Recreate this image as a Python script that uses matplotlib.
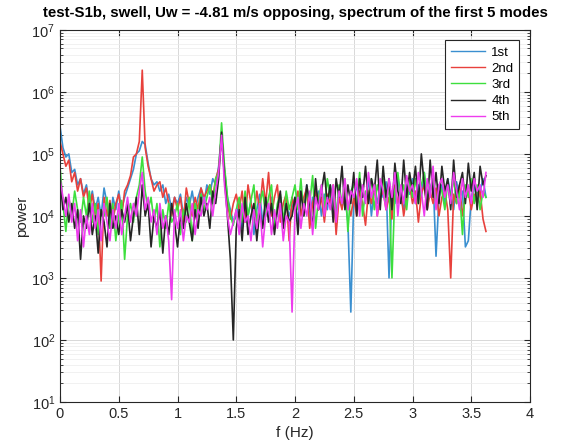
import numpy as np
import matplotlib
matplotlib.use("Agg")
import matplotlib.pyplot as plt
from matplotlib.ticker import LogLocator, NullFormatter

plt.rcParams['font.family'] = ['Liberation Sans', 'DejaVu Sans']
plt.rcParams['mathtext.fontset'] = 'custom'
plt.rcParams['mathtext.rm'] = 'Liberation Sans'
plt.rcParams['mathtext.it'] = 'Liberation Sans'

# frequency step (Hz) and number of bins
df = 0.025
n_bins = 146
freq = np.arange(n_bins) * df

# log10(power), rows of 10 bins (0.25 Hz each)
mode1_log = [
    5.45, 5.1, 4.95, 5.0, 4.7, 4.75, 4.5, 4.6, 4.35, 4.5,
    4.2, 4.4, 4.1, 4.3, 4.0, 4.45, 4.2, 3.8, 4.3, 4.1,
    4.4, 4.1, 4.3, 4.45, 4.6, 4.75, 5.0, 5.05, 5.2, 5.15,
    4.85, 4.6, 4.5, 4.55, 4.4, 4.5, 4.2, 4.35, 4.1, 4.3,
    4.2, 4.35, 4.0, 4.3, 4.15, 4.4, 4.1, 4.3, 4.45, 4.2,
    4.5, 4.35, 4.6, 4.5, 4.8, 5.3, 4.75, 4.3, 4.1, 3.9,
    4.0, 4.2, 3.8, 4.3, 4.0, 4.25, 3.7, 4.1, 4.35, 3.9,
    4.2, 4.0, 4.3, 3.85, 4.1, 4.3, 3.9, 4.2, 4.0, 4.15,
    4.3, 3.9, 4.4, 4.1, 4.5, 3.95, 4.3, 4.2, 4.4, 4.0,
    4.35, 4.1, 4.5, 4.2, 4.0, 4.4, 4.15, 4.3, 3.9, 2.45,
    4.3, 4.5, 4.1, 4.4, 4.25, 4.6, 4.0, 4.45, 4.2, 4.5,
    4.3, 4.55, 3.0, 4.4, 4.2, 4.6, 4.3, 4.1, 4.5, 4.35,
    4.6, 4.2, 4.5, 4.3, 4.7, 4.1, 4.45, 4.6, 3.35, 4.3,
    4.5, 4.2, 4.6, 4.35, 4.1, 4.55, 4.3, 4.4, 3.5, 3.6,
    4.3, 4.5, 4.2, 4.4, 4.6, 4.3,
]
mode2_log = [
    5.2, 5.0, 4.8, 4.9, 4.55, 4.7, 4.4, 4.6, 4.3, 4.45,
    4.1, 4.35, 4.0, 4.2, 2.95, 4.3, 4.0, 4.25, 3.9, 4.2,
    4.35, 4.0, 4.4, 4.5, 4.65, 4.95, 5.0, 5.2, 6.35, 5.1,
    4.8, 4.6, 4.4, 4.5, 4.55, 4.3, 4.45, 4.2, 4.0, 4.3,
    4.1, 4.3, 3.9, 4.45, 4.2, 4.0, 4.3, 4.1, 4.45, 4.3,
    4.4, 4.5, 4.3, 4.6, 4.75, 5.3, 4.7, 4.2, 3.95, 4.2,
    4.35, 4.1, 4.4, 3.9, 4.5, 4.2, 4.0, 4.4, 4.1, 4.6,
    4.2, 4.7, 4.0, 4.3, 4.5, 3.9, 4.2, 4.35, 3.6, 4.3,
    4.1, 4.4, 4.0, 4.3, 4.45, 3.8, 4.2, 4.4, 4.1, 4.3,
    3.9, 4.35, 4.2, 4.5, 3.7, 4.3, 4.1, 4.45, 4.2, 4.0,
    4.3, 4.0, 4.4, 4.2, 3.85, 4.4, 4.2, 4.5, 4.0, 4.3,
    4.4, 4.1, 4.3, 3.95, 4.5, 4.2, 4.4, 4.0, 4.3, 4.5,
    4.2, 4.4, 3.9, 4.35, 4.5, 4.1, 4.4, 4.2, 4.45, 4.0,
    4.3, 4.4, 4.1, 3.0, 4.35, 4.2, 4.5, 4.0, 4.3, 4.4,
    4.1, 4.35, 4.2, 4.4, 3.95, 3.75,
]
mode3_log = [
    4.8, 4.2, 3.75, 4.3, 4.0, 4.4, 4.1, 3.9, 4.3, 4.0,
    4.4, 3.9, 4.2, 3.7, 4.1, 4.0, 4.3, 3.8, 4.2, 3.6,
    4.0, 4.25, 3.3, 4.0, 4.2, 3.9, 4.3, 4.5, 4.95, 4.4,
    4.1, 4.3, 3.9, 4.2, 3.5, 4.1, 3.8, 4.2, 3.9, 4.0,
    4.2, 3.7, 4.1, 3.9, 4.3, 3.6, 4.2, 4.0, 4.35, 4.1,
    4.3, 4.5, 4.2, 4.6, 4.7, 5.5, 4.8, 4.3, 4.0, 3.85,
    4.1, 4.3, 3.9, 4.4, 4.0, 4.25, 4.5, 3.9, 4.2, 4.4,
    4.0, 4.3, 4.5, 3.8, 4.2, 4.35, 3.9, 4.4, 4.1, 4.3,
    4.5, 4.1, 4.6, 4.0, 4.4, 4.2, 4.65, 3.8, 4.3, 4.5,
    4.1, 4.6, 4.3, 4.45, 4.0, 4.5, 4.2, 4.6, 3.75, 4.4,
    4.5, 4.2, 4.7, 4.0, 4.4, 4.3, 4.6, 4.1, 4.5, 4.3,
    4.6, 4.2, 4.5, 3.0, 4.4, 4.7, 4.3, 4.5, 4.1, 4.6,
    4.3, 4.6, 4.2, 4.5, 4.7, 4.3, 4.4, 4.6, 4.2, 4.5,
    4.4, 4.1, 4.55, 4.3, 4.6, 4.2, 4.4, 3.7, 4.5, 4.3,
    4.6, 4.2, 4.5, 4.1, 4.4, 4.3,
]
mode4_log = [
    4.6, 4.1, 4.3, 3.9, 4.2, 3.8, 4.1, 3.3, 4.0, 3.8,
    4.2, 3.7, 4.0, 3.4, 4.1, 3.9, 3.5, 4.2, 3.8, 4.0,
    3.7, 4.1, 3.9, 4.2, 3.6, 4.0, 4.3, 3.7, 4.5, 4.0,
    4.2, 3.5, 4.0, 3.8, 4.1, 3.4, 4.0, 3.7, 4.2, 3.9,
    3.5, 4.0, 3.8, 4.2, 3.9, 3.6, 4.1, 3.8, 4.3, 4.0,
    4.2, 3.8, 4.4, 4.2, 4.6, 5.35, 4.6, 4.0, 3.3, 2.0,
    3.8, 4.1, 3.6, 4.3, 3.7, 4.0, 4.2, 3.6, 4.1, 3.8,
    4.3, 3.9, 4.2, 3.7, 4.1, 4.4, 3.8, 4.2, 3.9, 4.0,
    4.3, 3.7, 4.4, 4.0, 4.5, 4.2, 3.8, 4.6, 4.1, 4.4,
    4.7, 4.2, 4.5, 3.9, 4.6, 4.3, 4.8, 4.1, 4.5, 4.2,
    4.7, 4.0, 4.6, 4.3, 4.8, 4.2, 4.6, 4.4, 4.9, 4.1,
    4.8, 4.3, 4.6, 4.1, 4.85, 4.4, 4.2, 4.9, 4.3, 4.7,
    4.4, 4.8, 4.2, 5.0, 4.5, 4.1, 4.9, 4.3, 4.7, 4.2,
    4.8, 4.4, 4.6, 4.1, 4.9, 4.3, 4.5, 4.7, 4.2, 4.85,
    4.4, 4.7, 4.1, 4.8, 4.5, 4.65,
]
mode5_log = [
    4.6, 4.3, 4.0, 4.35, 3.9, 4.2, 3.6, 4.1, 3.5, 4.0,
    3.7, 4.2, 3.8, 4.1, 3.6, 4.2, 3.9, 3.6, 4.1, 3.8,
    4.2, 3.7, 4.0, 4.3, 3.9, 4.2, 4.0, 4.4, 4.7, 4.1,
    4.3, 3.9, 4.1, 3.7, 4.2, 3.8, 4.0, 3.6, 2.65, 4.1,
    3.8, 4.1, 3.6, 4.0, 3.9, 4.2, 3.7, 4.1, 4.0, 4.3,
    4.1, 4.3, 4.0, 4.4, 4.7, 5.3, 4.5, 4.0, 3.7, 3.9,
    4.1, 3.7, 4.2, 3.9, 4.0, 3.6, 4.1, 3.8, 4.2, 3.5,
    4.0, 4.2, 3.7, 4.1, 3.8, 4.2, 3.6, 4.0, 3.9, 2.45,
    4.1, 4.3, 3.8, 4.2, 4.0, 4.4, 3.7, 4.3, 4.1, 4.5,
    4.0, 4.3, 4.1, 4.5, 3.9, 4.4, 4.2, 4.6, 4.1, 4.4,
    4.3, 4.6, 4.0, 4.5, 4.2, 4.7, 4.3, 4.5, 4.0, 4.6,
    4.4, 4.1, 4.6, 4.3, 4.7, 4.0, 4.5, 4.2, 4.65, 4.4,
    4.5, 4.2, 4.7, 4.4, 4.0, 4.6, 4.3, 4.8, 4.1, 4.5,
    4.6, 4.3, 4.5, 4.2, 4.7, 4.4, 4.1, 4.6, 4.3, 4.5,
    4.2, 4.6, 4.4, 4.5, 4.3, 4.7,
]

labels = ['1st', '2nd', '3rd', '4th', '5th']
colors = ['#3a8fd0', '#e8413c', '#3ddf3d', '#262626', '#ee3cee']
series = [mode1_log, mode2_log, mode3_log, mode4_log, mode5_log]

x_ticks = [0, 0.5, 1, 1.5, 2, 2.5, 3, 3.5, 4]
x_ticklabels = ['0', '0.5', '1', '1.5', '2', '2.5', '3', '3.5', '4']
y_exps = [1, 2, 3, 4, 5, 6, 7]

fig = plt.figure(figsize=(5.73, 4.45), dpi=100)
ax = fig.add_axes([0.1047, 0.0966, 0.8203, 0.8364])

for vals, lab, col in zip(series, labels, colors):
    ax.plot(freq, np.power(10.0, np.array(vals)), color=col, lw=1.2, label=lab)

ax.set_yscale('log')
ax.set_xlim(0, 4)
ax.set_ylim(10 ** y_exps[0], 10 ** y_exps[-1])
ax.set_xticks(x_ticks)
ax.set_xticklabels(x_ticklabels)
ax.set_yticks([10.0 ** e for e in y_exps])
ax.set_yticklabels([r'$10^{%d}$' % e for e in y_exps])
ax.yaxis.set_minor_locator(LogLocator(base=10, subs=np.arange(2, 10), numticks=20))
ax.yaxis.set_minor_formatter(NullFormatter())

ax.grid(True, which='major', color='#d8d8d8', lw=0.7)
ax.grid(True, which='minor', axis='y', color='#ebebeb', lw=0.5)
ax.set_axisbelow(True)

ax.tick_params(which='both', direction='in', top=True, right=True,
               labelsize=10.5, colors='#262626')
ax.tick_params(which='major', length=4)
ax.tick_params(which='minor', length=2)
for s in ax.spines.values():
    s.set_color('#262626')
    s.set_linewidth(0.8)

ax.set_xlabel('f (Hz)', fontsize=11, color='#262626', labelpad=4)
ax.set_ylabel('power', fontsize=11, color='#262626', labelpad=2)
ax.set_title('test-S1b, swell, Uw = -4.81 m/s opposing, spectrum of the first 5 modes',
             fontsize=10.8, fontweight='bold', pad=9)

leg = ax.legend(loc='upper right', fontsize=9.5, handlelength=2.6, fancybox=False,
                framealpha=1, edgecolor='#262626', borderaxespad=0.8,
                labelspacing=0.3, handletextpad=0.5, borderpad=0.45)
leg.get_frame().set_linewidth(0.8)
for h in leg.get_lines():
    h.set_linewidth(1.0)

fig.savefig('out.png', dpi=100)
